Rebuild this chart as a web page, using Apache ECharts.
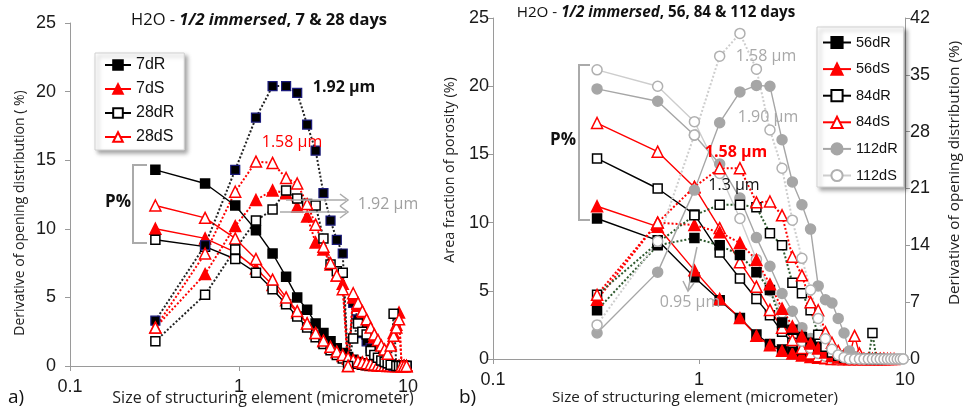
<!DOCTYPE html>
<html><head><meta charset="utf-8">
<script src="https://cdn.jsdelivr.net/npm/echarts@6/dist/echarts.min.js"></script>
<style>html,body{margin:0;padding:0;background:#fff}#c{width:964px;height:409px}</style>
</head><body><div id="c"></div>
<script>
// x: size of structuring element (micrometer)
const sizes = [0.32,0.63,0.95,1.26,1.58,1.90,2.21,2.53,2.84,3.16,3.48,3.79,4.11,4.42,4.74,5.06,5.37,5.69,6.01,6.32,6.64,6.95,7.27,7.58,7.90,8.22,8.53,8.85,9.17,9.48,9.80];

// Panel a: area fraction (P%, solid) and derivative (dotted)
const a7dR_P  = [14.3,13.3,11.7,9.9,8.2,6.5,5.0,4.1,3.1,2.4,1.8,1.3,0.95,0.65,0.45,0.3,0.2,0.13,0.08,0.05,0.03,0.02,0.01,0,0,0,0,0,0,0,0];
const a7dS_P  = [10.0,9.3,8.3,7.1,5.9,4.8,3.9,3.1,2.4,1.8,1.35,1.0,0.72,0.52,0.37,0.26,0.18,0.12,0.08,0.05,0.03,0.02,0.01,0,0,0,0,0,0,0,0];
const a28dR_P = [9.2,8.7,7.8,6.8,5.6,4.5,3.6,2.8,2.1,1.6,1.15,0.8,0.55,0.38,0.25,0.16,0.1,0.06,0.04,0.02,0.01,0,0,0,0,0,0,0,0,0,0];
const a28dS_P = [11.7,10.8,9.3,7.8,6.3,5.0,4.0,3.1,2.4,1.85,1.4,1.05,0.8,0.6,0.45,0.34,0.26,0.2,0.15,0.11,0.08,0.06,0.04,0.03,0.02,0.01,0,0,0,0,0];
const a7dR_D  = [3.3,8.8,14.3,18.1,20.4,20.4,19.9,17.6,15.7,12.6,10.6,9.2,8.2,0,4.6,3.4,2.4,1.8,1.3,0.9,0.6,0.4,0.3,0.2,0.1,0,0,0,0,0,0];
const a7dS_D  = [2.8,6.7,10.2,12.1,12.8,12.6,11.6,10.9,9.0,8.5,7.4,6.6,6.0,0,5.0,4.4,3.8,3.2,2.6,2.1,1.7,1.3,1.0,0.8,1.6,2.4,3.0,3.9,0,0,0];
const a28dR_D = [1.8,5.2,8.5,10.6,11.4,12.8,12.2,11.8,11.7,9.3,7.4,6.9,6.8,0,2.0,3.1,2.5,2.3,1.1,0.8,0.6,0.4,0.3,0.2,0.1,3.8,0,0,0,0,0];
const a28dS_D = [2.8,8.2,12.7,14.9,14.8,13.7,13.3,11.8,10.3,8.7,7.5,6.6,5.6,0,5.3,4.6,4.0,3.4,2.8,2.3,1.9,1.5,1.2,0.9,1.5,2.2,2.8,3.4,0,0,0];

// Panel b: P% on left axis (solid), derivative on right axis (dotted)
const b56dR_P  = [10.3,8.7,6.0,4.3,3.0,1.8,1.1,0.7,0.45,0.3,0.2,0.12,0.07,0.04,0.02,0,0];
const b56dS_P  = [11.2,9.7,6.5,4.4,3.0,1.7,1.0,0.6,0.4,0.25,0.15,0.1,0.05,0.03,0.01,0,0,0,0,0,0,0,0,0,0];
const b84dR_P  = [14.7,12.5,10.6,7.8,5.9,4.4,3.2,2.0,1.2,0.7,0.35,0.15,0.05,0,0,0];
const b84dS_P  = [17.3,15.2,12.6,9.6,7.1,5.3,3.6,2.3,1.4,0.8,0.4,0.2,0.1,0,0,0,0.2,1.7,0.4,0,0,0,0,0,0,0,0,0];
const b112dR_P = [19.8,18.9,16.4,14.3,11.8,8.9,6.8,4.8,3.5,2.3,1.5,0.8,0.4,0.2,0.1,0.05,0,0,0];
const b112dS_P = [21.2,20.0,17.4,13.6,10.3,7.3,5.0,3.4,2.2,1.3,0.8,0.4,0.2,0.1,0,0,0,0,0,0,0,0,0,0,0,0,0,0,0,0,0];
const b56dR_D  = [6.0,14.0,14.9,14.0,12.8,10.7,8.5,4.5,3.6,2.7,2.0,1.5,1.0,0.6,0.3,0.1,0];
const b56dS_D  = [7.3,16.8,16.5,15.6,14.3,12.2,9.2,6.2,4.0,2.8,1.9,1.3,0.8,0.4,0.2,0.1,0];
const b84dR_D  = [7.9,14.3,17.7,19.0,19.0,18.7,15.5,14.0,9.4,8.1,6.0,3.0,1.5,0.8,0.4,0.2,0.1,0,0,0,0,3.2,0,0];
const b84dS_D  = [7.9,16.8,21.2,23.5,23.5,19.3,19.4,17.7,12.6,10.3,7.0,6.0,3.3,2.0,1.0,0.5,0.2,0,0];
const b112dR_D = [3.2,10.7,20.8,29.1,32.9,33.7,33.6,27.0,21.8,19.0,16.0,9.0,7.3,6.9,5.0,3.2,1.0,0.3,0,0];
const b112dS_D = [4.2,14.5,27.6,37.3,40.1,35.7,28.2,23.5,17.1,12.4,8.5,5.0,2.5,1.2,0.5,0.2,0,0,0,0,0,0,0,0,0,0,0,0,0,0,0];

const pairs = v => v.map((y,i)=>[sizes[i], y]);
const FONT = '"Liberation Sans", Arial, sans-serif';
const FONT2 = '"Open Sans", "Liberation Sans", sans-serif';
const RED = '#ff0000', GRAY = '#a6a6a6', LGRAY = '#cdcdcd', DGREEN = '#2e5a2e';

function S(name, vals, o){
  return Object.assign({
    name, type:'line', data:pairs(vals), symbolSize:9, z:3,
    xAxisIndex:o.x, yAxisIndex:o.y, symbol:o.sym,
    lineStyle:{color:o.lc, width:o.lw||1.4, type:o.lt||'solid'},
    itemStyle:{color:o.fill, borderColor:o.bc, borderWidth:o.bw||1.5}
  }, o.extra||{});
}

const axisCommon = {
  axisLine:{show:true, lineStyle:{color:'#9a9a9a', width:1}},
  axisTick:{show:true, length:5, lineStyle:{color:'#9a9a9a'}},
  splitLine:{show:false},
};
const lab = m => ({fontSize:18, color:'#1a1a1a', fontFamily:FONT, margin:m});

const option = {
  animation:false,
  backgroundColor:'#fff',
  grid:[
    {left:70, top:23, width:338, height:343},
    {left:493, top:18, width:412, height:341}
  ],
  xAxis:[
    Object.assign({type:'log', gridIndex:0, min:0.1, max:10, logBase:10, axisLabel:lab(12)}, axisCommon),
    Object.assign({type:'log', gridIndex:1, min:0.1, max:10, logBase:10, axisLabel:lab(12)}, axisCommon)
  ],
  yAxis:[
    Object.assign({type:'value', gridIndex:0, min:0, max:25, interval:5, axisLabel:lab(14)}, axisCommon),
    Object.assign({type:'value', gridIndex:1, min:0, max:25, interval:5, position:'left', axisLabel:lab(4)}, axisCommon),
    Object.assign({type:'value', gridIndex:1, min:0, max:42, interval:7, position:'right', axisLabel:lab(5)}, axisCommon)
  ],
  legend:[
    {data:['7dR','7dS','28dR','28dS'], orient:'vertical', left:95, top:53,
     padding:[4,10,5,9], itemWidth:26, itemHeight:12, itemGap:8,
     textStyle:{fontSize:16, fontFamily:FONT, color:'#111'},
     backgroundColor:'#fff', borderColor:'#d0d0d0', borderWidth:1,
     shadowColor:'rgba(0,0,0,0.35)', shadowBlur:4, shadowOffsetX:3, shadowOffsetY:3},
    {data:['56dR','56dS','84dR','84dS','112dR','112dS'], orient:'vertical', left:817, top:27,
     padding:[8,6,4,5], itemWidth:28, itemHeight:14, itemGap:11.6,
     textStyle:{fontSize:14.5, fontFamily:FONT, color:'#111'},
     backgroundColor:'#fff', borderColor:'#d0d0d0', borderWidth:1,
     shadowColor:'rgba(0,0,0,0.35)', shadowBlur:4, shadowOffsetX:3, shadowOffsetY:3}
  ],
  series:[
    // panel a P% (solid) — first so the legend takes their style
    S('7dR',  a7dR_P,  {x:0,y:0,sym:'rect',lc:'#000',fill:'#000',bc:'#000'}),
    S('7dS',  a7dS_P,  {x:0,y:0,sym:'triangle',lc:RED,fill:RED,bc:RED,extra:{symbolSize:11}}),
    S('28dR', a28dR_P, {x:0,y:0,sym:'rect',lc:'#000',fill:'#fff',bc:'#000'}),
    S('28dS', a28dS_P, {x:0,y:0,sym:'triangle',lc:RED,fill:'#fff',bc:RED,extra:{symbolSize:11}}),
    // panel a derivatives (dotted)
    S('7dR',  a7dR_D,  {x:0,y:0,sym:'rect',lc:'#222',lt:'dotted',lw:2,fill:'#000',bc:'#1a1a7a',bw:1.2}),
    S('7dS',  a7dS_D,  {x:0,y:0,sym:'triangle',lc:RED,lt:'dotted',lw:2,fill:RED,bc:RED,extra:{symbolSize:11}}),
    S('28dR', a28dR_D, {x:0,y:0,sym:'rect',lc:'#222',lt:'dotted',lw:2,fill:'#fff',bc:'#000'}),
    S('28dS', a28dS_D, {x:0,y:0,sym:'triangle',lc:RED,lt:'dotted',lw:2,fill:'#fff',bc:RED,extra:{symbolSize:11}}),
    // panel b P% (solid, left axis)
    S('56dR',  b56dR_P,  {x:1,y:1,sym:'rect',lc:'#000',fill:'#000',bc:'#000'}),
    S('56dS',  b56dS_P,  {x:1,y:1,sym:'triangle',lc:RED,fill:RED,bc:RED,extra:{symbolSize:11}}),
    S('84dR',  b84dR_P,  {x:1,y:1,sym:'rect',lc:'#000',fill:'#fff',bc:'#000'}),
    S('84dS',  b84dS_P,  {x:1,y:1,sym:'triangle',lc:RED,fill:'#fff',bc:RED,extra:{symbolSize:11}}),
    S('112dR', b112dR_P, {x:1,y:1,sym:'circle',lc:GRAY,fill:GRAY,bc:GRAY,extra:{symbolSize:10}}),
    S('112dS', b112dS_P, {x:1,y:1,sym:'circle',lc:LGRAY,fill:'#fff',bc:'#b0b0b0',extra:{symbolSize:10}}),
    // panel b derivative (right axis)
    S('56dR',  b56dR_D,  {x:1,y:2,sym:'rect',lc:DGREEN,lt:'dotted',lw:2,fill:'#000',bc:'#000'}),
    S('56dS',  b56dS_D,  {x:1,y:2,sym:'triangle',lc:RED,lt:'dotted',lw:2,fill:RED,bc:RED,extra:{symbolSize:11}}),
    S('84dR',  b84dR_D,  {x:1,y:2,sym:'rect',lc:DGREEN,lt:'dotted',lw:2,fill:'#fff',bc:'#000'}),
    S('84dS',  b84dS_D,  {x:1,y:2,sym:'triangle',lc:RED,lt:'dotted',lw:2,fill:'#fff',bc:RED,extra:{symbolSize:11}}),
    S('112dR', b112dR_D, {x:1,y:2,sym:'circle',lc:GRAY,fill:GRAY,bc:GRAY,extra:{symbolSize:10}}),
    S('112dS', b112dS_D, {x:1,y:2,sym:'circle',lc:LGRAY,lt:'dotted',lw:2,fill:'#fff',bc:'#b0b0b0',extra:{symbolSize:10}})
  ],
  graphic:[
    // titles
    {type:'text', z:50, style:{x:259, y:20, align:'center', verticalAlign:'middle',
      text:'{n|H2O - }{bi|1/2 immersed}{b|, 7 & 28 days}',
      rich:{n:{fontSize:16.5, fontFamily:FONT2, fill:'#111'},
            bi:{fontSize:16.5, fontFamily:FONT2, fontWeight:'bold', fontStyle:'italic', fill:'#111'},
            b:{fontSize:16.5, fontFamily:FONT2, fontWeight:'bold', fill:'#111'}}}},
    {type:'text', z:50, style:{x:656, y:13, align:'center', verticalAlign:'middle',
      text:'{n|H2O - }{bi|1/2 immersed}{b|, 56, 84 & 112 days}',
      rich:{n:{fontSize:15.2, fontFamily:FONT2, fill:'#111'},
            bi:{fontSize:15.2, fontFamily:FONT2, fontWeight:'bold', fontStyle:'italic', fill:'#111'},
            b:{fontSize:15.2, fontFamily:FONT2, fontWeight:'bold', fill:'#111'}}}},
    // axis names
    {type:'text', z:50, x:20, y:213, rotation:Math.PI/2, style:{x:0, y:0, align:'center', verticalAlign:'middle',
      text:'Derivative of opening distribution ( %)', font:'14px '+FONT2, fill:'#222'}},
    {type:'text', z:50, style:{x:263, y:398, align:'center', verticalAlign:'middle',
      text:'Size of structuring element (micrometer)', font:'16px '+FONT2, fill:'#222'}},
    {type:'text', z:50, x:450, y:170, rotation:Math.PI/2, style:{x:0, y:0, align:'center', verticalAlign:'middle',
      text:'Area fraction of porosity (%)', font:'14.3px '+FONT2, fill:'#222'}},
    {type:'text', z:50, x:955, y:173, rotation:Math.PI/2, style:{x:0, y:0, align:'center', verticalAlign:'middle',
      text:'Derivative of opening distribution (%)', font:'15.3px '+FONT2, fill:'#222'}},
    {type:'text', z:50, style:{x:695, y:398, align:'center', verticalAlign:'middle',
      text:'Size of structuring element (micrometer)', font:'15.2px '+FONT2, fill:'#222'}},
    // panel labels
    {type:'text', z:50, style:{x:8, y:398, verticalAlign:'middle', text:'a)', font:'19px '+FONT2, fill:'#111'}},
    {type:'text', z:50, style:{x:459, y:398, verticalAlign:'middle', text:'b)', font:'19px '+FONT2, fill:'#111'}},
    // panel a annotations
    {type:'text', z:50, style:{x:344, y:87, align:'center', verticalAlign:'middle', text:'1.92 µm', font:'bold 16px '+FONT2, fill:'#111'}},
    {type:'text', z:50, style:{x:292, y:142, align:'center', verticalAlign:'middle', text:'1.58 µm', font:'16px '+FONT2, fill:RED}},
    {type:'text', z:50, style:{x:388, y:204, align:'center', verticalAlign:'middle', text:'1.92 µm', font:'16px '+FONT2, fill:'#a0a0a0'}},
    {type:'text', z:50, style:{x:118, y:202, align:'center', verticalAlign:'middle', text:'P%', font:'bold 17px '+FONT2, fill:'#111'}},
    {type:'polyline', z:50, shape:{points:[[147,165],[133,165],[133,243],[147,243]]}, style:{stroke:'#aaa', lineWidth:2, fill:null}},
    {type:'polyline', z:50, shape:{points:[[286,200],[346,200]]}, style:{stroke:'#aaa', lineWidth:1.5, fill:null}},
    {type:'polyline', z:50, shape:{points:[[280,212],[346,212]]}, style:{stroke:'#aaa', lineWidth:1.5, fill:null}},
    {type:'polyline', z:50, shape:{points:[[340,194],[348,200],[340,206]]}, style:{stroke:'#aaa', lineWidth:1.5, fill:null}},
    {type:'polyline', z:50, shape:{points:[[340,206],[348,212],[340,218]]}, style:{stroke:'#aaa', lineWidth:1.5, fill:null}},
    // panel b annotations
    {type:'text', z:50, style:{x:766, y:56, align:'center', verticalAlign:'middle', text:'1.58 µm', font:'16px '+FONT2, fill:'#a8a8a8'}},
    {type:'text', z:50, style:{x:768, y:117, align:'center', verticalAlign:'middle', text:'1.90 µm', font:'16px '+FONT2, fill:'#a8a8a8'}},
    {type:'text', z:50, style:{x:736, y:152, align:'center', verticalAlign:'middle', text:'1.58 µm', font:'bold 16px '+FONT2, fill:RED}},
    {type:'text', z:50, style:{x:734, y:185, align:'center', verticalAlign:'middle', text:'1.3 µm', font:'16px '+FONT2, fill:'#111'}},
    {type:'text', z:50, style:{x:690, y:302, align:'center', verticalAlign:'middle', text:'0.95 µm', font:'16px '+FONT2, fill:'#a8a8a8'}},
    {type:'text', z:50, style:{x:563, y:140, align:'center', verticalAlign:'middle', text:'P%', font:'bold 17px '+FONT2, fill:'#111'}},
    {type:'polyline', z:50, shape:{points:[[590,65],[579,65],[579,220],[590,220]]}, style:{stroke:'#aaa', lineWidth:2, fill:null}},
    {type:'polyline', z:50, shape:{points:[[697,247],[688,290]]}, style:{stroke:'#aaa', lineWidth:1.5, fill:null}},
    {type:'polyline', z:50, shape:{points:[[683,281],[688,291],[694,283]]}, style:{stroke:'#aaa', lineWidth:1.5, fill:null}}
  ]
};
const chart = echarts.init(document.getElementById('c'), null, {renderer:'canvas'});
chart.setOption(option);
</script></body></html>
